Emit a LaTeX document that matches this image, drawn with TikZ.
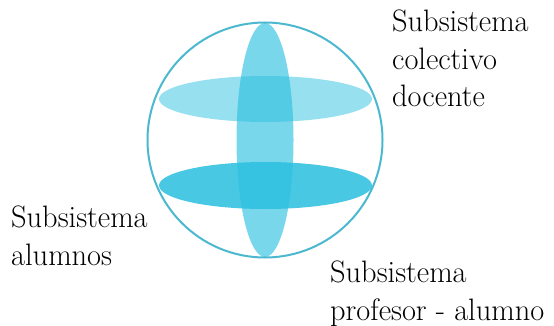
\documentclass[tikz,border=0pt]{standalone}
\definecolor{cyanbase}{HTML}{2BBFDF}
\definecolor{ringcol}{HTML}{4BB8D0}
\tikzset{
  lbl/.style={font=\fontsize{31}{37.5}\selectfont, align=left, inner sep=0pt, anchor=base west, xscale=0.98},
  flat/.style={fill=cyanbase, draw=none}
}
\begin{document}
\begin{tikzpicture}[x=1pt,y=-1pt]
\useasboundingbox (0,0) rectangle (554,326);
\fill[flat, fill opacity=0.49] (265.5,99) ellipse [x radius=106.5, y radius=23];
\fill[flat, fill opacity=0.86] (265.5,185.5) ellipse [x radius=106.5, y radius=23.5];
\fill[flat, fill opacity=0.63] (265,140) ellipse [x radius=28.5, y radius=117];
\node[draw=ringcol, line width=2pt, circle, minimum size=235pt, inner sep=0pt] (ring) at (265,140) {};
\node[lbl] (top) at (392,107) {Subsistema\\colectivo\\docente};
\node[lbl] (left) at (11,265) {Subsistema\\alumnos};
\node[lbl] (bot) at (330,320) {Subsistema\\profesor - alumno};
\end{tikzpicture}
\end{document}
